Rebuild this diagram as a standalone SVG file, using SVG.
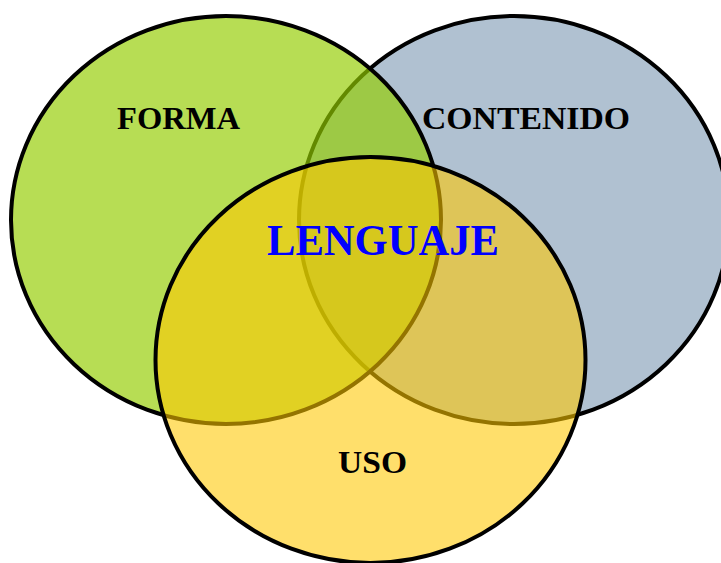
<svg xmlns="http://www.w3.org/2000/svg" width="721" height="563" viewBox="0 0 721 563">
  <style>
    .circle { stroke: #000000; stroke-width: 4; }
    .label { font-family: "Palatino Linotype", "Book Antiqua", Palatino, "Liberation Serif", "DejaVu Serif", serif; font-weight: bold; text-anchor: middle; fill: #000000; }
    .small { font-size: 31px; }
    .big { font-size: 44px; fill: #0000ff; }
  </style>
  <rect width="721" height="563" fill="#ffffff"/>
  <g id="contenido">
    <ellipse class="circle" cx="514" cy="220" rx="215" ry="204" fill="#b0c1d1"/>
    <text class="label small" x="526" y="129" textLength="208" lengthAdjust="spacingAndGlyphs">CONTENIDO</text>
  </g>
  <g id="forma">
    <ellipse class="circle" cx="226" cy="220" rx="215" ry="204" fill="#93cc00" fill-opacity="0.67"/>
    <text class="label small" x="178.5" y="129" textLength="123" lengthAdjust="spacingAndGlyphs">FORMA</text>
  </g>
  <g id="uso">
    <ellipse class="circle" cx="370.5" cy="360" rx="215" ry="203" fill="#ffc800" fill-opacity="0.58"/>
    <text class="label small" x="372.5" y="473" textLength="69" lengthAdjust="spacingAndGlyphs">USO</text>
  </g>
  <g id="lenguaje">
    <text class="label big" x="383" y="255" textLength="232" lengthAdjust="spacingAndGlyphs">LENGUAJE</text>
  </g>
</svg>
